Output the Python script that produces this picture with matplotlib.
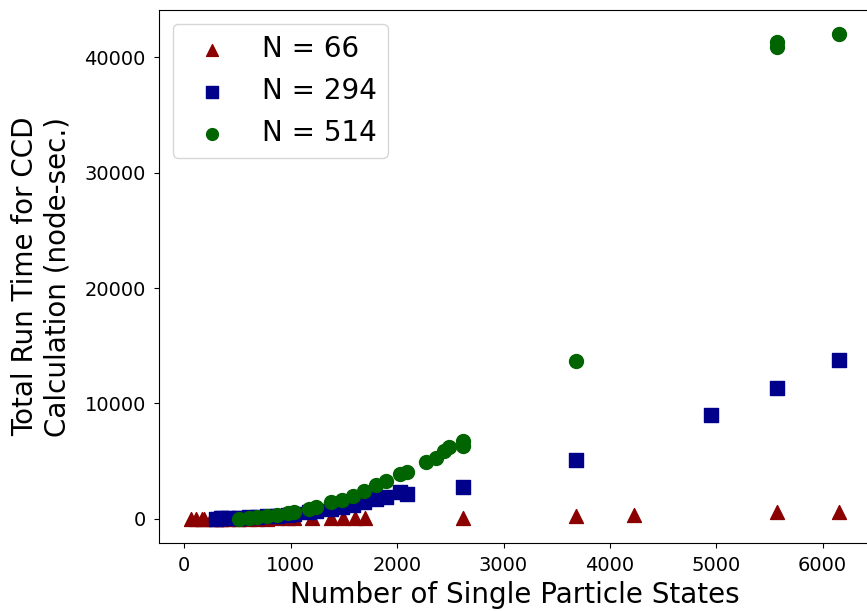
import matplotlib
matplotlib.use("Agg")
import matplotlib.pyplot as plt

# N = 66
x66 = [66, 114, 162, 186, 246, 294, 342, 358, 406, 502, 514, 610, 682, 778, 874, 970,
       1030, 1198, 1382, 1490, 1606, 1700, 2618, 3680, 4225, 5570, 6150]
y66 = [2, 3, 4, 5, 7, 8, 10, 11, 12, 14, 15, 18, 20, 22, 26, 30,
       32, 40, 48, 55, 62, 70, 110, 260, 330, 600, 630]

# N = 294
x294 = [294, 342, 358, 406, 502, 514, 610, 682, 778, 874, 970, 1030, 1174, 1238,
        1382, 1478, 1582, 1690, 1798, 1894, 2030, 2090, 2618, 3680, 4950, 5570, 6150]
y294 = [20, 30, 35, 50, 80, 85, 120, 150, 200, 270, 350, 400, 560, 650,
        850, 1000, 1200, 1450, 1700, 1910, 2300, 2150, 2720, 5120, 9020, 11340, 13790]

# N = 514
x514 = [514, 610, 682, 778, 874, 970, 1030, 1174, 1238, 1382, 1478, 1582, 1690,
        1798, 1894, 2030, 2090, 2270, 2366, 2438, 2486, 2618, 2618, 3680, 5570, 5570, 6150]
y514 = [10, 60, 113, 200, 320, 460, 600, 840, 1040, 1414, 1620, 2000, 2430,
        2900, 3250, 3880, 4015, 4880, 5250, 5900, 6180, 6270, 6765, 13700, 40900, 41300, 42000]

labels = ["N = 66", "N = 294", "N = 514"]

fig = plt.figure(figsize=(8.67, 6.11), dpi=100)
ax = fig.add_axes([0.1834, 0.1113, 0.8212, 0.8723])
ax.scatter(x66, y66, marker="^", s=100, color="#8b0000", label=labels[0], zorder=3)
ax.scatter(x294, y294, marker="s", s=100, color="#00008b", label=labels[1], zorder=3)
ax.scatter(x514, y514, marker="o", s=100, color="#006400", label=labels[2], zorder=3)

ax.set_xlabel("Number of Single Particle States", fontsize=20, labelpad=4)
ax.set_ylabel("Total Run Time for CCD\nCalculation (node-sec.)", fontsize=20, labelpad=9)
ax.tick_params(labelsize=14, pad=6)
ax.set_xticks([0, 1000, 2000, 3000, 4000, 5000, 6000])
ax.legend(loc="upper left", fontsize=20, markerscale=0.85)

fig.savefig("out.png", dpi=100)
